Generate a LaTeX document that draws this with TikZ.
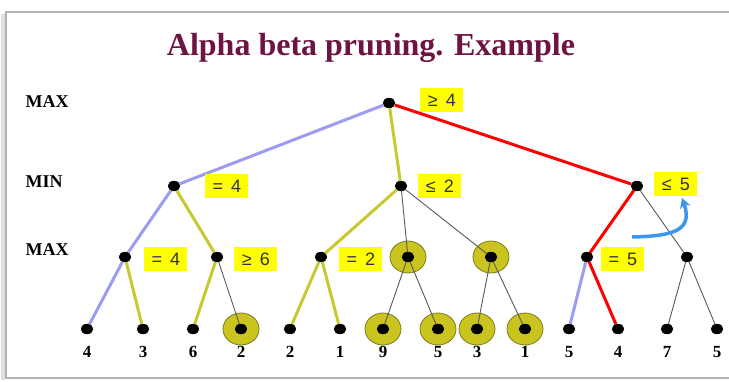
\documentclass[tikz,border=0pt]{standalone}
\usepackage{fontspec}
\setmainfont{Liberation Serif}
\newfontfamily\valfont{Liberation Sans}
\usetikzlibrary{positioning, arrows.meta, shapes.geometric}

\definecolor{lavender}{HTML}{9C9CF2}
\definecolor{oliveline}{HTML}{C8C832}
\definecolor{hilite}{HTML}{FFFF00}
\definecolor{titlered}{HTML}{6E1444}
\definecolor{cutfill}{HTML}{C9C41E}
\definecolor{cutline}{HTML}{7F7A20}
\definecolor{skyblue}{HTML}{3C96EC}

\begin{document}
\begin{tikzpicture}[
        x=1pt, y=-1pt,
        >=Stealth,
        dot/.style={draw, fill=black, ellipse, inner sep=0pt, minimum width=12pt, minimum height=10pt},
        cut/.style={draw=cutline, line width=0.8pt, fill=cutfill, ellipse, minimum width=36pt, minimum height=32pt},
        val/.style={fill=hilite, text=black!80, font=\valfont\fontsize{18}{18}\selectfont,
            inner sep=0pt, minimum width=43pt, minimum height=24pt},
        lvl/.style={anchor=west, font=\bfseries\fontsize{18}{18}\selectfont},
        num/.style={font=\bfseries\fontsize{17}{17}\selectfont, inner sep=0pt},
        bluepath/.style={lavender, line width=3pt},
        olivepath/.style={oliveline, line width=3pt},
        redpath/.style={red, line width=3pt},
        plain/.style={black!65, line width=0.9pt}
    ]
    \useasboundingbox (0,0) rectangle (729,381);

    % slide frame
    \draw[black!12, line width=4pt] (3,14) -- (3,380);
    \draw[black!30, line width=1.2pt] (735,12) -- (6,12) -- (6,378) -- (735,378);

    \node[anchor=base, text=titlered, font=\bfseries\fontsize{32}{32}\selectfont] (title) at (371,55) {Alpha beta pruning. Example};

    \node[lvl] (lmax) at (22,102) {MAX};
    \node[lvl] (lmin) at (22,182) {MIN};
    \node[lvl] (lmax2) at (22,250) {MAX};

    % pruned parts
    \foreach \x/\y in {408/257, 491/257, 241/329, 383/329, 438/329, 477/329, 525/329}
        \node[cut] at (\x,\y) {};

    % tree
    \node[dot] (root) at (389,103) {};
    \node[dot] (mnA) at (174,186) {};
    \node[dot] (mnB) at (401,186) {};
    \node[dot] (mnC) at (637,186) {};
    \foreach \x [count=\i] in {125, 217, 321, 408, 491, 587, 687}
        \node[dot] (mx\i) at (\x,257) {};
    \foreach \x/\v [count=\i] in {87/4, 143/3, 193/6, 241/2, 290/2, 340/1, 383/9,
                                  438/5, 477/3, 525/1, 569/5, 618/4, 667/7, 717/5}
        \node[dot, label={[num, label distance=12pt]below:\v}] (lf\i) at (\x,329) {};

    \draw[bluepath] (root) -- (mnA);
    \draw[olivepath] (root) -- (mnB);
    \draw[redpath] (root) -- (mnC);

    \draw[bluepath] (mnA) -- (mx1);
    \draw[olivepath] (mnA) -- (mx2);
    \draw[bluepath] (mx1) -- (lf1);
    \draw[olivepath] (mx1) -- (lf2);
    \draw[olivepath] (mx2) -- (lf3);
    \draw[plain] (mx2) -- (lf4);

    \draw[olivepath] (mnB) -- (mx3);
    \path[plain] (mnB) edge (mx4) edge (mx5);
    \draw[olivepath] (mx3) -- (lf5);
    \draw[olivepath] (mx3) -- (lf6);
    \path[plain] (mx4) edge (lf7) edge (lf8);
    \path[plain] (mx5) edge (lf9) edge (lf10);

    \draw[redpath] (mnC) -- (mx6);
    \draw[plain] (mnC) -- (mx7);
    \draw[bluepath] (mx6) -- (lf11);
    \draw[redpath] (mx6) -- (lf12);
    \path[plain] (mx7) edge (lf13) edge (lf14);

    % values
    \node[val, right=25pt of root, yshift=3pt] (vroot) {≥\hspace{8pt}4};
    \node[val, right=25pt of mnA] (vA) {=\hspace{8pt}4};
    \node[val, right=11pt of mnB] (vB) {≤\hspace{8pt}2};
    \node[val, right=11pt of mnC, yshift=2pt] (vC) {≤\hspace{8pt}5};
    \node[val, right=13pt of mx1, yshift=-2pt] (v1) {=\hspace{8pt}4};
    \node[val, right=11pt of mx2, yshift=-2pt] (v2) {≥\hspace{8pt}6};
    \node[val, right=12pt of mx3, yshift=-2pt] (v3) {=\hspace{8pt}2};
    \node[val, right=8pt of mx6, yshift=-2pt] (v6) {=\hspace{8pt}5};

    % swap hint
    \coordinate (hookfrom) at (632,237);
    \coordinate (hookto) at (682,198);
    \draw[skyblue, line width=3.5pt, -{Stealth[length=10pt, width=11pt]}]
        (hookfrom) .. controls (670,236) and (694,232) .. (hookto);
\end{tikzpicture}
\end{document}
